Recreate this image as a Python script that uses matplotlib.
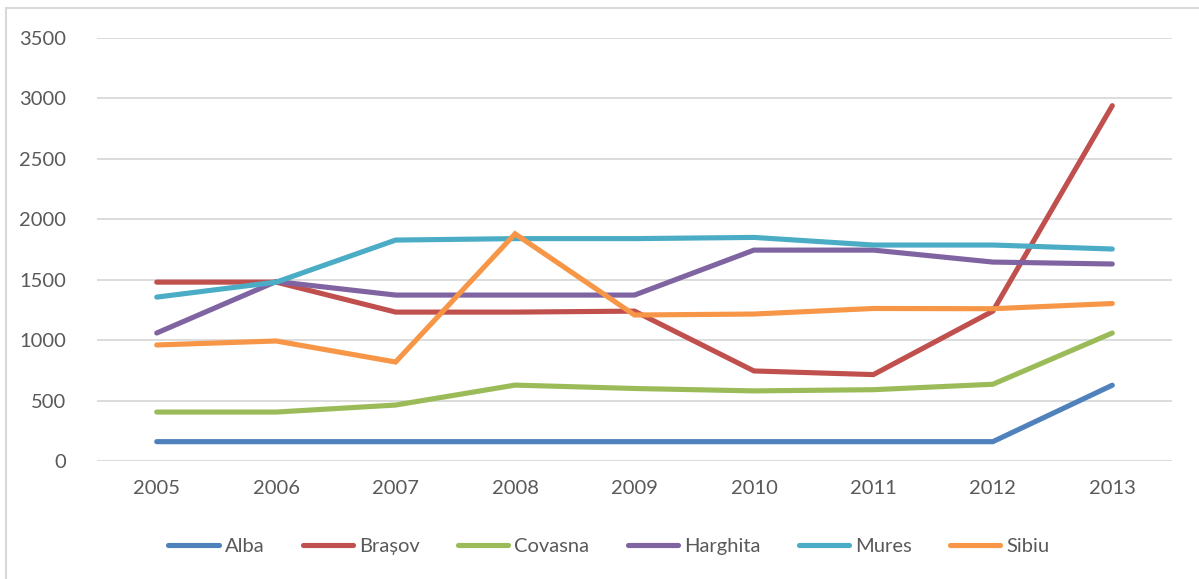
import matplotlib.pyplot as plt
from matplotlib.patches import Rectangle

years = [2005, 2006, 2007, 2008, 2009, 2010, 2011, 2012, 2013]
alba = [160, 160, 160, 160, 160, 160, 160, 160, 627]
brasov = [1480, 1480, 1232, 1232, 1240, 745, 715, 1240, 2940]
covasna = [405, 405, 463, 628, 600, 580, 590, 635, 1059]
harghita = [1059, 1485, 1373, 1373, 1373, 1745, 1745, 1646, 1630]
mures = [1356, 1480, 1828, 1840, 1840, 1850, 1787, 1787, 1754]
sibiu = [960, 993, 819, 1880, 1208, 1216, 1262, 1260, 1303]

series = [
  ("Alba", alba, "#4F81BD"),
  ("Brașov", brasov, "#C0504D"),
  ("Covasna", covasna, "#9BBB59"),
  ("Harghita", harghita, "#8064A2"),
  ("Mures", mures, "#4BACC6"),
  ("Sibiu", sibiu, "#F79646"),
]

plt.rcParams['font.family'] = ['Lato', 'DejaVu Sans']
text_color = "#595959"

fig = plt.figure(figsize=(11.99, 5.79), dpi=100)
# outer chart frame (partly outside the picture)
fig.patches.append(Rectangle((6/1199, -0.05), 1.1, 1 - 8/579 + 0.05, transform=fig.transFigure,
                             fill=False, edgecolor="#D9D9D9", linewidth=1.5))
ax = fig.add_axes([97/1199, 1 - 461/579, 1075/1199, 423/579])

x = list(range(len(years)))
for name, vals, c in series:
  ax.plot(x, vals, color=c, linewidth=3.7, solid_capstyle="round",
          solid_joinstyle="miter", label=name, zorder=3)

ax.set_xlim(-0.5, len(years) - 0.5)
ax.set_ylim(0, 3500)
ax.set_yticks(range(0, 3501, 500))
ax.set_xticks(x)
ax.set_xticklabels([str(y) for y in years])
ax.grid(axis="y", color="#D9D9D9", linewidth=1.3)
ax.set_axisbelow(True)
for s in ax.spines.values():
  s.set_visible(False)
ax.tick_params(length=0, labelsize=14.5, colors=text_color)
ax.tick_params(axis="y", pad=22)
ax.tick_params(axis="x", pad=14)

leg = ax.legend(loc="center", bbox_to_anchor=(609/1199, 1 - 546/579),
                bbox_transform=fig.transFigure, ncol=6, frameon=False,
                fontsize=14.5, handlelength=2.5, handletextpad=0.3,
                columnspacing=1.9)
for t in leg.get_texts():
  t.set_color(text_color)

fig.savefig("out.png", dpi=100)
plt.close(fig)
